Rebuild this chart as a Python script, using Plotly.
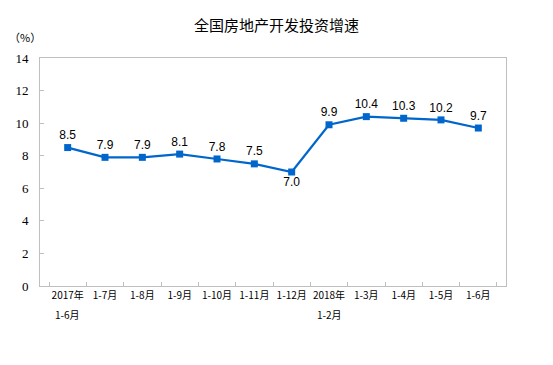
import plotly.graph_objects as go

categories = ["2017年1-6月", "1-7月", "1-8月", "1-9月", "1-10月", "1-11月", "1-12月",
              "2018年1-2月", "1-3月", "1-4月", "1-5月", "1-6月"]
tick_line1 = ["2017年", "1-7月", "1-8月", "1-9月", "1-10月", "1-11月", "1-12月",
              "2018年", "1-3月", "1-4月", "1-5月", "1-6月"]
tick_line2 = ["1-6月", "", "", "", "", "", "", "1-2月", "", "", "", ""]
values = [8.5, 7.9, 7.9, 8.1, 7.8, 7.5, 7.0, 9.9, 10.4, 10.3, 10.2, 9.7]
label_pos = ["top center"] * 6 + ["bottom center"] + ["top center"] * 5
y_ticks = [0, 2, 4, 6, 8, 10, 12, 14]

fig = go.Figure()
fig.add_trace(go.Scatter(
    x=categories, y=values, mode="lines+markers+text",
    text=[f"{v:.1f}" for v in values], textposition=label_pos,
    textfont=dict(family="Liberation Sans, Arial", size=12, color="#000000"),
    line=dict(color="#0066CC", width=2.2),
    marker=dict(symbol="square", size=7, color="#0066CC"),
    cliponaxis=False, showlegend=False,
))

annotations = [dict(text="（%）", xref="paper", yref="paper", x=-0.07, y=1.09,
                    xanchor="left", yanchor="middle", showarrow=False,
                    font=dict(family="Noto Sans CJK SC", size=11, color="#000000"))]
for cat, t2 in zip(categories, tick_line2):
    if t2:
        annotations.append(dict(text=t2, x=cat, xref="x", yref="paper", y=0,
                                yanchor="middle", yshift=-28, showarrow=False,
                                font=dict(family="Noto Sans CJK SC", size=10, color="#000000")))

fig.update_layout(
    width=553, height=365,
    margin=dict(l=40, r=47, t=58, b=79),
    paper_bgcolor="white", plot_bgcolor="white",
    title=dict(text="全国房地产开发投资增速", x=0.5, xanchor="center", y=0.93, yanchor="middle",
               font=dict(family="Noto Sans CJK SC", size=15, color="#000000")),
    annotations=annotations,
)
fig.update_xaxes(
    type="category", tickson="boundaries", ticks="inside", ticklen=4, tickcolor="#BFBFBF",
    tickvals=categories, ticktext=tick_line1,
    showline=True, linecolor="#BFBFBF", linewidth=1, mirror=True, showgrid=False,
    tickangle=0, automargin=False,
    tickfont=dict(family="Noto Sans CJK SC", size=10, color="#000000"),
)
fig.update_yaxes(
    range=[0, 14], tickvals=y_ticks, ticks="inside", ticklen=4, tickcolor="#BFBFBF",
    showline=True, linecolor="#BFBFBF", linewidth=1, mirror=True, showgrid=False,
    zeroline=False, ticklabelstandoff=8, automargin=False,
    tickfont=dict(family="Liberation Serif, Times New Roman", size=13, color="#000000"),
)
fig.write_html("out.html", config={"displayModeBar": False},
               post_script="document.body.style.margin='0';")
